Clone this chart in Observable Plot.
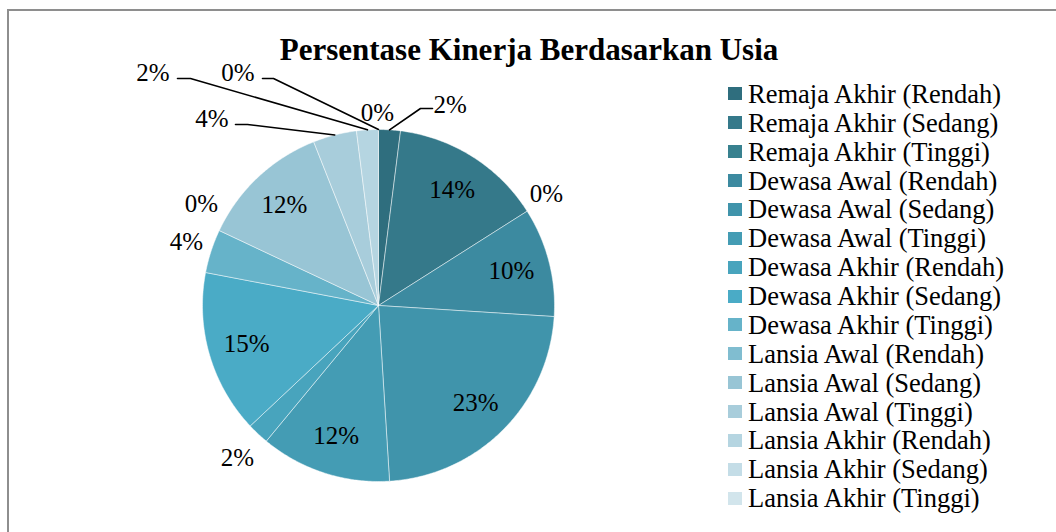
<!DOCTYPE html>
<html>
<head>
<meta charset="utf-8">
<script src="https://cdn.jsdelivr.net/npm/d3@7"></script>
<script src="https://cdn.jsdelivr.net/npm/@observablehq/plot@0.6"></script>
<style>
  html, body { margin: 0; padding: 0; background: #fff; }
  #wrap { position: relative; width: 1056px; height: 532px; overflow: hidden; }
  #border { position: absolute; left: 7px; top: 9px; width: 1100px; height: 600px; border-left: 2px solid #8e8e8e; border-top: 2px solid #8e8e8e; box-sizing: border-box; }
  #title { position: absolute; left: 0; top: 34px; width: 1058px; text-align: center; font-weight: bold; font-size: 31px; line-height: 31px; color: #000; white-space: nowrap; }
  #chart { position: absolute; left: 0; top: 0; }
  #legend { position: absolute; left: 728px; top: 79.5px; }
  .row { display: flex; align-items: center; height: 28.88px; font-size: 26.5px; line-height: 28px; color: #000; white-space: nowrap; }
  .sw { width: 14px; height: 13px; margin-right: 6px; flex: none; }
</style>
</head>
<body>
<div id="wrap" style="font-family: 'Liberation Serif'">
  <div id="border"></div>
  <div id="chart"></div>
  <div id="title" style="font-family: 'Liberation Serif'">Persentase Kinerja Berdasarkan Usia</div>
  <div id="legend" style="font-family: 'Liberation Serif'"></div>
</div>
<script>
// ---- data ----
const categories = [
  "Remaja Akhir (Rendah)", "Remaja Akhir (Sedang)", "Remaja Akhir (Tinggi)",
  "Dewasa Awal (Rendah)", "Dewasa Awal (Sedang)", "Dewasa Awal (Tinggi)",
  "Dewasa Akhir (Rendah)", "Dewasa Akhir (Sedang)", "Dewasa Akhir (Tinggi)",
  "Lansia Awal (Rendah)", "Lansia Awal (Sedang)", "Lansia Awal (Tinggi)",
  "Lansia Akhir (Rendah)", "Lansia Akhir (Sedang)", "Lansia Akhir (Tinggi)"
];
// percentage shares as labelled in the chart
const percents = [2, 14, 0, 10, 23, 12, 2, 15, 4, 0, 12, 4, 2, 0, 0];
const colors = [
  "#2f6e7e", "#35798a", "#38818f", "#3c8aa0", "#4094ab", "#449cb4",
  "#48a4bd", "#4aabc6", "#66b3c9", "#80bdd0", "#98c5d5", "#a8cddb",
  "#b5d5e1", "#c4dde7", "#d2e5ec"
];

// ---- layout ----
const W = 1056, H = 532;
const cx = 378, cy = 305, R = 176;
const insideR = 0.78;
// outside label placement (px offsets from the pie centre) and optional leader elbow
const outsideLabels = {
  "Remaja Akhir (Rendah)": {lx: 55, ly: -201, anchor: "start", elbow: [42, -197], end: [54, -197]},
  "Remaja Akhir (Tinggi)": {lx: 168, ly: -112, anchor: "middle"},
  "Dewasa Akhir (Rendah)": {lx: -141, ly: 152, anchor: "middle"},
  "Dewasa Akhir (Tinggi)": {lx: -192, ly: -64, anchor: "middle"},
  "Lansia Awal (Rendah)": {lx: -177, ly: -102, anchor: "middle"},
  "Lansia Awal (Tinggi)": {lx: -150, ly: -187, anchor: "end", elbow: [-131, -181], end: [-143, -181]},
  "Lansia Akhir (Rendah)": {lx: -209, ly: -233, anchor: "end", elbow: [-188, -227], end: [-201, -227]},
  "Lansia Akhir (Sedang)": {lx: -124, ly: -233, anchor: "end", elbow: [-105, -227], end: [-116, -227]},
  "Lansia Akhir (Tinggi)": {lx: -1, ly: -193, anchor: "middle"}
};

const data = categories.map((name, i) => ({name, value: percents[i], color: colors[i]}));
const arcs = d3.pie().value(d => d.value).sort(null)(data);

const px = a => cx + R * Math.sin(a);
const py = a => cy - R * Math.cos(a);

// slice polygons
const polys = [];
for (const a of arcs) {
  if (a.data.value === 0) continue;
  const n = Math.max(2, Math.ceil((a.endAngle - a.startAngle) / 0.01));
  polys.push({name: a.data.name, x: cx, y: cy});
  for (let k = 0; k <= n; k++) {
    const t = a.startAngle + (a.endAngle - a.startAngle) * k / n;
    polys.push({name: a.data.name, x: px(t), y: py(t)});
  }
  polys.push({name: a.data.name, x: cx, y: cy});
}

// labels and leaders
const labels = [];
const leaders = [];
for (const a of arcs) {
  const name = a.data.name;
  const mid = (a.startAngle + a.endAngle) / 2;
  const text = a.data.value + "%";
  const o = outsideLabels[name];
  if (o) {
    labels.push({name, text, x: cx + o.lx, y: cy + o.ly, anchor: o.anchor});
    if (o.elbow) {
      leaders.push({name, x: px(mid), y: py(mid)});
      leaders.push({name, x: cx + o.elbow[0], y: cy + o.elbow[1]});
      leaders.push({name, x: cx + o.end[0], y: cy + o.end[1]});
    }
  } else {
    labels.push({name, text, x: cx + insideR * R * Math.sin(mid), y: cy - insideR * R * Math.cos(mid), anchor: "middle"});
  }
}

const font = "Liberation Serif";
const fs = 25;
const chart = Plot.plot({
  width: W, height: H,
  margin: 0,
  x: {domain: [0, W], range: [0, W], axis: null},
  y: {domain: [0, H], range: [0, H], axis: null},
  color: {type: "ordinal", domain: categories, range: colors},
  style: {fontFamily: font, background: "transparent"},
  marks: [
    Plot.line(polys, {x: "x", y: "y", z: "name", fill: "name", stroke: "#ffffff", strokeWidth: 0.6, strokeOpacity: 0.8, curve: "linear"}),
    Plot.line(leaders, {x: "x", y: "y", z: "name", stroke: "#000", strokeWidth: 1.6, curve: "linear"}),
    Plot.text(labels.filter(d => d.anchor === "middle"), {x: "x", y: "y", text: "text", fontSize: fs, fill: "#000", textAnchor: "middle", fontFamily: font}),
    Plot.text(labels.filter(d => d.anchor === "start"), {x: "x", y: "y", text: "text", fontSize: fs, fill: "#000", textAnchor: "start", fontFamily: font}),
    Plot.text(labels.filter(d => d.anchor === "end"), {x: "x", y: "y", text: "text", fontSize: fs, fill: "#000", textAnchor: "end", fontFamily: font})
  ]
});
chart.querySelectorAll("text").forEach(t => t.style.fontFamily = "'Liberation Serif'");
document.getElementById("chart").appendChild(chart);

// legend
const leg = document.getElementById("legend");
categories.forEach((c, i) => {
  const row = document.createElement("div");
  row.className = "row";
  const sw = document.createElement("span");
  sw.className = "sw";
  sw.style.background = colors[i];
  const lab = document.createElement("span");
  lab.style.fontFamily = "'Liberation Serif'";
  lab.textContent = c;
  row.appendChild(sw); row.appendChild(lab);
  leg.appendChild(row);
});
</script>
</body>
</html>
